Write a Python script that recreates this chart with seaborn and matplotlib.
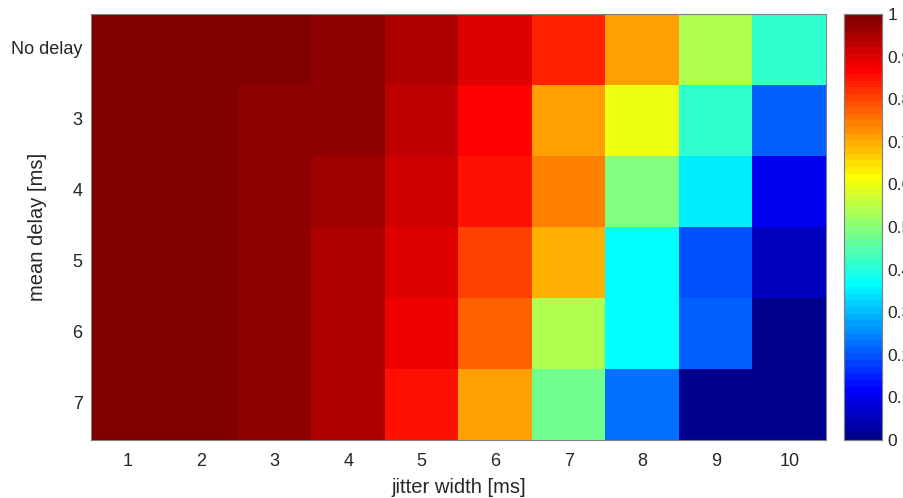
import numpy as np
import pandas as pd
import matplotlib
matplotlib.use("Agg")
import matplotlib.pyplot as plt
from matplotlib.colors import ListedColormap
import seaborn as sns

jitter_width = ["1", "2", "3", "4", "5", "6", "7", "8", "9", "10"]
mean_delay = ["No delay", "3", "4", "5", "6", "7"]

row_no_delay = [1.00, 1.00, 1.00, 0.977, 0.945, 0.898, 0.836, 0.711, 0.539, 0.414]
row_3 = [1.00, 1.00, 0.977, 0.977, 0.930, 0.867, 0.711, 0.602, 0.414, 0.211]
row_4 = [1.00, 1.00, 0.977, 0.961, 0.914, 0.852, 0.742, 0.492, 0.352, 0.102]
row_5 = [1.00, 1.00, 0.977, 0.945, 0.898, 0.805, 0.695, 0.367, 0.195, 0.055]
row_6 = [1.00, 1.00, 0.977, 0.945, 0.883, 0.773, 0.539, 0.367, 0.211, 0.008]
row_7 = [1.00, 1.00, 0.977, 0.945, 0.852, 0.711, 0.477, 0.227, 0.008, 0.008]

cbar_ticks = [0, 0.1, 0.2, 0.3, 0.4, 0.5, 0.6, 0.7, 0.8, 0.9, 1]
cbar_labels = ["0", "0.1", "0.2", "0.3", "0.4", "0.5", "0.6", "0.7", "0.8", "0.9", "1"]

data = pd.DataFrame([row_no_delay, row_3, row_4, row_5, row_6, row_7],
                    index=mean_delay, columns=jitter_width)


def matlab_jet(m=64):
    n = int(np.ceil(m / 4))
    u = np.concatenate([np.arange(1, n + 1) / n, np.ones(n - 1), np.arange(n, 0, -1) / n])
    g = int(np.ceil(n / 2)) - (1 if m % 4 == 1 else 0) + np.arange(1, len(u) + 1)
    r = g + n
    b = g - n
    cols = np.zeros((m, 3))
    for arr, ch in ((r, 0), (g, 1), (b, 2)):
        ok = (arr >= 1) & (arr <= m)
        cols[arr[ok] - 1, ch] = u[ok]
    return ListedColormap(cols, name="matlab_jet")


cmap = matlab_jet(64)

sns.set_theme(style="white")
plt.rcParams["font.family"] = ["Liberation Sans", "DejaVu Sans"]
txt = "#262626"

W, H = 904, 498
fig = plt.figure(figsize=(W / 100, H / 100), dpi=100)
ax = fig.add_axes([91 / W, 1 - 440 / H, (826 - 91) / W, (440 - 14) / H])
cax = fig.add_axes([844 / W, 1 - 440 / H, (882 - 844) / W, (440 - 14) / H])

sns.heatmap(data, ax=ax, cbar_ax=cax, cmap=cmap, vmin=0, vmax=1,
            linewidths=0, cbar_kws={"ticks": cbar_ticks})

for sp in ax.spines.values():
    sp.set_visible(True)
    sp.set_color("#808080")
    sp.set_linewidth(0.8)
    sp.set_zorder(5)
ax.tick_params(axis="both", which="both", direction="in", length=5,
               color="#262626", width=0.7, labelsize=13, labelcolor=txt,
               top=True, right=True, bottom=True, left=True,
               labeltop=False, labelright=False)
ax.tick_params(axis="x", pad=9)
ax.tick_params(axis="y", pad=6)
ax.set_xticklabels(jitter_width, rotation=0)
ax.set_yticklabels(mean_delay, rotation=0)
ax.set_xlabel("jitter width [ms]", fontsize=14.5, color=txt)
ax.set_ylabel("mean delay [ms]", fontsize=14.5, color=txt)
ax.xaxis.set_label_coords((459 - 91) / 735, (440 - 487) / 426)
ax.xaxis.label.set_va("center")
ax.yaxis.set_label_coords((38 - 91) / 735, 0.5)
ax.yaxis.label.set_va("center")

cax.set_yticks(cbar_ticks)
cax.set_yticklabels(cbar_labels)
cax.tick_params(axis="y", direction="in", length=5, color="#262626", width=0.7,
                labelsize=12.5, labelcolor=txt, right=True, left=False, pad=4)
for sp in cax.spines.values():
    sp.set_visible(True)
    sp.set_color("#808080")
    sp.set_linewidth(0.8)

fig.savefig("out.png", dpi=100, facecolor="white")
